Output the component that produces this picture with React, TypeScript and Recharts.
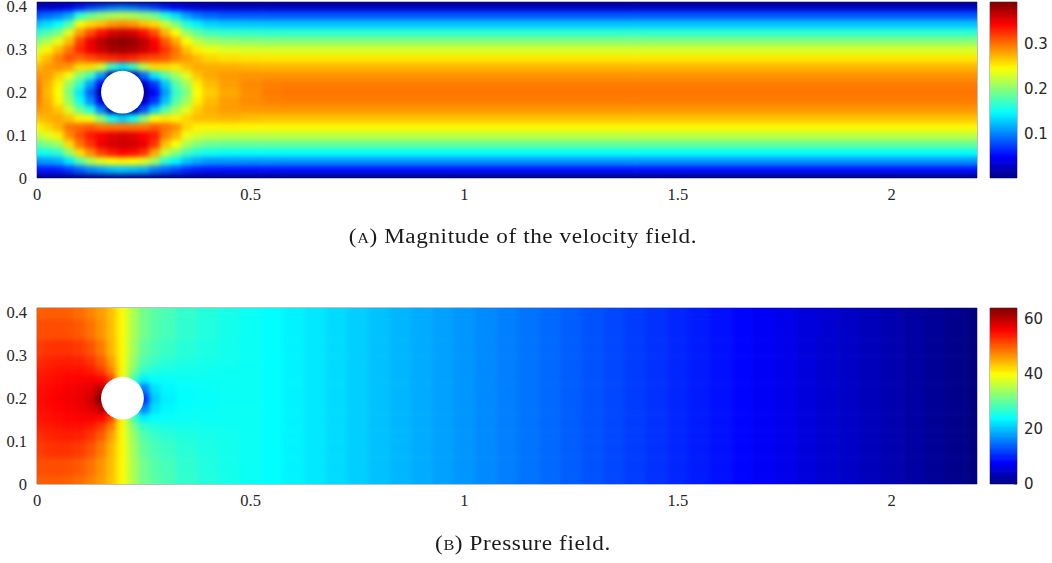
import { ReferenceArea, ReferenceDot, Scatter, ScatterChart, XAxis, YAxis } from 'recharts'

const xTicks = [0, 0.5, 1, 1.5, 2]
const yTicks = [0, 0.1, 0.2, 0.3, 0.4]
const speedTicks = [0.1, 0.2, 0.3]
const pressureTicks = [0, 20, 40, 60]
const speedMax = 0.394
const pressureMax = 63.7

// velocity magnitude, one row per x, one value per y
const speedXs = [0, 0.025, 0.05, 0.075, 0.1, 0.125, 0.15, 0.175, 0.2, 0.225, 0.25, 0.275, 0.3, 0.325, 0.35, 0.375, 0.4, 0.45, 0.5, 0.55, 0.6, 2.2]
const speedYs = [0, 0.02, 0.04, 0.06, 0.08, 0.1, 0.12, 0.14, 0.16, 0.18, 0.2, 0.22, 0.24, 0.26, 0.28, 0.3, 0.32, 0.34, 0.36, 0.38, 0.4, 0.41]
const speed = [
  [0, 0.056, 0.106, 0.149, 0.188, 0.221, 0.249, 0.27, 0.286, 0.296, 0.3, 0.297, 0.288, 0.274, 0.255, 0.231, 0.2, 0.165, 0.125, 0.082, 0.028, 0],
  [0, 0.058, 0.11, 0.156, 0.198, 0.235, 0.262, 0.276, 0.28, 0.277, 0.272, 0.276, 0.283, 0.284, 0.273, 0.25, 0.216, 0.177, 0.135, 0.09, 0.03, 0],
  [0, 0.06, 0.115, 0.165, 0.21, 0.252, 0.275, 0.28, 0.268, 0.25, 0.245, 0.25, 0.265, 0.29, 0.295, 0.272, 0.238, 0.195, 0.148, 0.098, 0.034, 0],
  [0, 0.07, 0.14, 0.205, 0.26, 0.29, 0.3, 0.27, 0.23, 0.205, 0.195, 0.205, 0.24, 0.285, 0.315, 0.3, 0.272, 0.235, 0.18, 0.115, 0.042, 0],
  [0, 0.085, 0.18, 0.26, 0.3, 0.315, 0.305, 0.25, 0.19, 0.155, 0.14, 0.165, 0.2, 0.26, 0.305, 0.33, 0.32, 0.285, 0.24, 0.165, 0.06, 0],
  [0, 0.1, 0.215, 0.29, 0.325, 0.335, 0.31, 0.24, 0.16, 0.105, 0.085, 0.11, 0.17, 0.26, 0.315, 0.35, 0.35, 0.315, 0.26, 0.185, 0.075, 0],
  [0, 0.11, 0.235, 0.32, 0.35, 0.345, 0.3, 0.2, 0.1, 0.04, 0.01, 0.05, 0.11, 0.23, 0.325, 0.365, 0.372, 0.34, 0.27, 0.2, 0.085, 0],
  [0, 0.12, 0.245, 0.335, 0.36, 0.355, 0.3, 0.15, 0.02, 0, 0, 0, 0.02, 0.17, 0.33, 0.378, 0.385, 0.36, 0.285, 0.21, 0.095, 0],
  [0, 0.125, 0.25, 0.345, 0.365, 0.36, 0.3, 0.13, 0, 0, 0, 0, 0, 0.14, 0.335, 0.38, 0.39, 0.365, 0.29, 0.215, 0.1, 0],
  [0, 0.12, 0.245, 0.34, 0.362, 0.355, 0.3, 0.15, 0.02, 0, 0, 0, 0.02, 0.17, 0.33, 0.375, 0.385, 0.36, 0.285, 0.21, 0.095, 0],
  [0, 0.115, 0.235, 0.325, 0.352, 0.345, 0.3, 0.2, 0.08, 0.03, 0.01, 0.03, 0.09, 0.22, 0.32, 0.365, 0.37, 0.34, 0.27, 0.2, 0.085, 0],
  [0, 0.095, 0.21, 0.28, 0.325, 0.335, 0.31, 0.245, 0.13, 0.07, 0.05, 0.07, 0.14, 0.26, 0.315, 0.35, 0.345, 0.315, 0.26, 0.19, 0.075, 0],
  [0, 0.085, 0.165, 0.225, 0.27, 0.295, 0.3, 0.255, 0.18, 0.125, 0.11, 0.125, 0.18, 0.26, 0.31, 0.325, 0.31, 0.275, 0.225, 0.16, 0.06, 0],
  [0, 0.075, 0.145, 0.2, 0.245, 0.275, 0.29, 0.25, 0.21, 0.18, 0.168, 0.18, 0.21, 0.255, 0.295, 0.3, 0.28, 0.245, 0.195, 0.135, 0.05, 0],
  [0, 0.065, 0.125, 0.175, 0.215, 0.24, 0.262, 0.262, 0.235, 0.21, 0.197, 0.21, 0.235, 0.27, 0.285, 0.27, 0.245, 0.205, 0.16, 0.11, 0.04, 0],
  [0, 0.06, 0.115, 0.16, 0.198, 0.23, 0.25, 0.272, 0.265, 0.252, 0.246, 0.252, 0.268, 0.28, 0.272, 0.252, 0.222, 0.185, 0.143, 0.095, 0.033, 0],
  [0, 0.057, 0.108, 0.153, 0.19, 0.224, 0.25, 0.272, 0.277, 0.272, 0.265, 0.272, 0.28, 0.278, 0.262, 0.24, 0.208, 0.172, 0.131, 0.087, 0.03, 0],
  [0, 0.056, 0.107, 0.15, 0.188, 0.221, 0.25, 0.274, 0.284, 0.284, 0.28, 0.284, 0.286, 0.277, 0.258, 0.234, 0.203, 0.167, 0.127, 0.083, 0.029, 0],
  [0, 0.056, 0.106, 0.149, 0.188, 0.221, 0.249, 0.271, 0.285, 0.291, 0.29, 0.292, 0.288, 0.275, 0.256, 0.232, 0.201, 0.166, 0.126, 0.082, 0.028, 0],
  [0, 0.056, 0.106, 0.149, 0.188, 0.221, 0.249, 0.27, 0.286, 0.295, 0.297, 0.296, 0.288, 0.274, 0.255, 0.231, 0.2, 0.165, 0.125, 0.082, 0.028, 0],
  [0, 0.056, 0.106, 0.149, 0.188, 0.221, 0.249, 0.27, 0.286, 0.296, 0.3, 0.297, 0.288, 0.274, 0.255, 0.231, 0.2, 0.165, 0.125, 0.082, 0.028, 0],
  [0, 0.056, 0.106, 0.149, 0.188, 0.221, 0.249, 0.27, 0.286, 0.296, 0.3, 0.297, 0.288, 0.274, 0.255, 0.231, 0.2, 0.165, 0.125, 0.082, 0.028, 0],
]

// pressure around the cylinder, one row per x
const pressureNearXs = [0, 0.025, 0.05, 0.075, 0.1, 0.125, 0.15, 0.175, 0.19, 0.2, 0.21, 0.225, 0.25, 0.275, 0.3, 0.35, 0.4, 0.45]
const pressureYs = [0, 0.04, 0.085, 0.115, 0.135, 0.155, 0.175, 0.2, 0.225, 0.245, 0.265, 0.285, 0.315, 0.36, 0.41]
const pressureNear = [
  [50, 51, 52, 53, 53.8, 54.4, 54.8, 55, 54.8, 54.4, 53.8, 53, 52, 51, 50],
  [50, 51, 52.5, 53.5, 54.2, 54.8, 55.2, 55.5, 55.2, 54.8, 54.2, 53.5, 52.5, 51, 50],
  [50, 51, 52.7, 53.8, 54.6, 55.2, 55.7, 56, 55.7, 55.2, 54.6, 53.8, 52.7, 51, 50],
  [49.7, 50.8, 52.7, 54, 54.9, 55.6, 56.2, 56.4, 56.2, 55.6, 54.9, 54, 52.7, 50.8, 49.7],
  [49, 50.2, 52.2, 53.8, 54.9, 55.8, 56.6, 57, 56.6, 55.8, 54.9, 53.8, 52.2, 50.2, 49],
  [47.5, 48.7, 50.6, 52.5, 54.3, 56, 57.5, 58.5, 57.5, 56, 54.3, 52.5, 50.6, 48.7, 47.5],
  [46, 46.5, 48, 50, 52, 55.5, 60, 63.7, 60, 55.5, 52, 50, 48, 46.5, 46],
  [43.7, 44, 44.5, 46, 48, 52, 58, 63.7, 58, 52, 48, 46, 44.5, 44, 43.7],
  [41.3, 41.3, 41.5, 42, 42.5, 43, 43, 43, 43, 43, 42.5, 42, 41.5, 41.3, 41.3],
  [39.8, 39.8, 39.8, 39.8, 39.8, 39.8, 39.8, 39.8, 39.8, 39.8, 39.8, 39.8, 39.8, 39.8, 39.8],
  [37.5, 37.5, 37.3, 37, 36.5, 36, 36, 36, 36, 36, 36.5, 37, 37.3, 37.5, 37.5],
  [34.5, 34.3, 33.8, 33, 31.5, 28, 26, 25, 26, 28, 31.5, 33, 33.8, 34.3, 34.5],
  [31, 31, 30, 29, 27, 23, 16, 11, 16, 23, 27, 29, 30, 31, 31],
  [29.5, 29.2, 28.5, 27.5, 25.8, 24, 22, 20.5, 22, 24, 25.8, 27.5, 28.5, 29.2, 29.5],
  [28.5, 28.2, 27.5, 26.5, 25.3, 24.3, 23.5, 23, 23.5, 24.3, 25.3, 26.5, 27.5, 28.2, 28.5],
  [27, 26.8, 26.3, 25.7, 25, 24.5, 24.2, 24, 24.2, 24.5, 25, 25.7, 26.3, 26.8, 27],
  [26, 25.9, 25.6, 25.2, 24.8, 24.5, 24.3, 24.2, 24.3, 24.5, 24.8, 25.2, 25.6, 25.9, 26],
  [25.2, 25.1, 25, 24.9, 24.7, 24.6, 24.5, 24.5, 24.5, 24.6, 24.7, 24.9, 25, 25.1, 25.2],
]

// downstream the pressure only changes along x
const pressureFarXs = [0.5, 0.55, 0.6, 0.65, 0.7, 0.75, 0.8, 0.85, 0.9, 0.95, 1, 1.05, 1.1, 1.15, 1.2, 1.25, 1.3, 1.35, 1.4, 1.45, 1.5, 1.55, 1.6, 1.65, 1.7, 1.75, 1.8, 1.85, 1.9, 1.95, 2, 2.05, 2.1, 2.15, 2.2]
const pressureFar = [24.5, 23.9, 23.2, 22.5, 21.7, 20.9, 20.1, 19.4, 18.7, 18, 17.3, 16.6, 15.9, 15.2, 14.5, 13.8, 13.1, 12.4, 11.7, 11, 10.3, 9.6, 8.9, 8.2, 7.4, 6.7, 5.9, 5.1, 4.4, 3.7, 3, 2.2, 1.5, 0.75, 0]

const speedLevels = [0, 0.01, 0.02, 0.03, 0.04, 0.05, 0.06, 0.07, 0.08, 0.09, 0.1, 0.11, 0.12, 0.13, 0.14, 0.15, 0.16, 0.17, 0.18, 0.19, 0.2, 0.21, 0.22, 0.23, 0.24, 0.25, 0.26, 0.27, 0.28, 0.29, 0.3, 0.31, 0.32, 0.33, 0.34, 0.35, 0.36, 0.37, 0.38, 0.39, 0.394]
const pressureLevels = [0, 2, 4, 6, 8, 10, 12, 14, 16, 18, 20, 22, 24, 26, 28, 30, 32, 34, 36, 38, 40, 42, 44, 46, 48, 50, 52, 54, 56, 58, 60, 62, 63.7]

const xMax = 2.2
const yMax = 0.41
const plotW = 940
const plotH = 176
const serif = '"Liberation Serif", serif'
const sans = '"DejaVu Sans", sans-serif'
const textColor = '#262626'
const frameColor = '#7f7f7f'

const clamp = (v: number) => Math.max(0, Math.min(1, v))

// matlab jet colormap
function jet(t: number) {
  const r = clamp(1.5 - Math.abs(4 * t - 3))
  const g = clamp(1.5 - Math.abs(4 * t - 2))
  const b = clamp(1.5 - Math.abs(4 * t - 1))
  return `rgb(${Math.round(r * 255)},${Math.round(g * 255)},${Math.round(b * 255)})`
}

function edges(list: number[], i: number) {
  const low = i === 0 ? list[0] : (list[i - 1] + list[i]) / 2
  const high = i === list.length - 1 ? list[i] : (list[i] + list[i + 1]) / 2
  return [low, high]
}

function toCells(xs: number[], ys: number[], columns: number[][]) {
  return xs.flatMap((x, i) =>
    ys.map((y, j) => {
      const [x0, x1] = edges(xs, i)
      const [y0, y1] = edges(ys, j)
      return { x, y, x0, x1, y0, y1, value: columns[i][j] }
    })
  )
}

const speedCells = toCells(speedXs, speedYs, speed)
const pressureCells = toCells(
  [...pressureNearXs, ...pressureFarXs],
  pressureYs,
  [...pressureNear, ...pressureFar.map(v => pressureYs.map(() => v))]
)

// cells on the outer edge go past the plot so the blur does not fade there
function heatCell(maxValue: number) {
  const pxX = plotW / xMax
  const pxY = plotH / yMax
  return (props: any) => {
    const { cx, cy, payload: c } = props
    const left = cx - (c.x - c.x0) * pxX - (c.x0 <= 0 ? 14 : 0)
    const right = cx + (c.x1 - c.x) * pxX + (c.x1 >= xMax ? 14 : 0)
    const top = cy - (c.y1 - c.y) * pxY - (c.y1 >= yMax ? 14 : 0)
    const bottom = cy + (c.y - c.y0) * pxY + (c.y0 <= 0 ? 14 : 0)
    return <rect x={left} y={top} width={right - left + 0.5} height={bottom - top + 0.5} fill={jet(c.value / maxValue)} />
  }
}

function HeatPanel({ id, top, cells, maxValue }: any) {
  return (
    <div id={id} style={{ position: 'absolute', left: 0, top }}>
      <ScatterChart width={985} height={210} margin={{ top: 2, right: 8, bottom: 0, left: 0 }}>
        <defs>
          <clipPath id={`${id}-clip`}>
            <rect x={37} y={2} width={plotW} height={plotH} />
          </clipPath>
        </defs>
        <XAxis
          type="number"
          dataKey="x"
          domain={[0, xMax]}
          ticks={xTicks}
          height={32}
          axisLine={false}
          tickLine={false}
          tickMargin={4}
          interval={0}
          allowDataOverflow
          tick={{ fontFamily: serif, fontSize: 16.5, fill: textColor }}
        />
        <YAxis
          type="number"
          dataKey="y"
          domain={[0, yMax]}
          ticks={yTicks}
          width={37}
          axisLine={false}
          tickLine={false}
          tickMargin={4}
          interval={0}
          allowDataOverflow
          tick={{ fontFamily: serif, fontSize: 16.5, fill: textColor }}
        />
        <Scatter data={cells} shape={heatCell(maxValue)} isAnimationActive={false} />
        <ReferenceDot x={0.2} y={0.2} r={21.4} fill="#ffffff" stroke="none" />
        <ReferenceArea x1={0} x2={xMax} y1={0} y2={yMax} fill="none" stroke={frameColor} strokeWidth={1} />
      </ScatterChart>
    </div>
  )
}

function barCell(maxValue: number) {
  const pxY = plotH / maxValue
  return (props: any) => {
    const { cy, payload: c } = props
    const top = cy - (c.y1 - c.y) * pxY - (c.y1 >= maxValue ? 8 : 0)
    const bottom = cy + (c.y - c.y0) * pxY + (c.y0 <= 0 ? 8 : 0)
    return <rect x={-5} y={top} width={47} height={bottom - top + 0.5} fill={jet(c.value / maxValue)} />
  }
}

function ColorBar({ id, top, levels, maxValue, ticks }: any) {
  const cells = toCells([0.5], levels, [levels])
  return (
    <div id={id} style={{ position: 'absolute', left: 985, top }}>
      <ScatterChart width={67} height={180} margin={{ top: 2, right: 0, bottom: 2, left: 5 }}>
        <defs>
          <clipPath id={`${id}-clip`}>
            <rect x={5} y={2} width={27} height={plotH} />
          </clipPath>
        </defs>
        <XAxis type="number" dataKey="x" domain={[0, 1]} hide />
        <YAxis
          type="number"
          dataKey="y"
          orientation="right"
          domain={[0, maxValue]}
          ticks={ticks}
          width={35}
          axisLine={false}
          tickSize={-3}
          tickMargin={10}
          interval={0}
          allowDataOverflow
          tickLine={{ stroke: '#404040' }}
          tick={{ fontFamily: sans, fontSize: 15, fill: textColor }}
        />
        <Scatter data={cells} shape={barCell(maxValue)} isAnimationActive={false} />
        <ReferenceArea x1={0} x2={1} y1={0} y2={maxValue} fill="none" stroke={frameColor} strokeWidth={1} />
      </ScatterChart>
    </div>
  )
}

function Caption({ top, letter, text }: any) {
  return (
    <div
      style={{
        position: 'absolute',
        left: -3,
        top,
        width: 1052,
        textAlign: 'center',
        fontFamily: serif,
        fontSize: 20,
        letterSpacing: 0.5,
        transform: 'scaleX(1.16)',
        color: '#1a1a1a',
        whiteSpace: 'pre',
      }}
    >
      <span style={{ fontVariant: 'small-caps' }}>({letter})</span> {text}
    </div>
  )
}

const panelCss = `
  .recharts-surface { overflow: visible; }
  #speed-panel .recharts-scatter { filter: blur(2.6px); clip-path: url(#speed-panel-clip); }
  #pressure-panel .recharts-scatter { filter: blur(2.5px); clip-path: url(#pressure-panel-clip); }
  #speed-bar .recharts-scatter { filter: blur(1.5px); clip-path: url(#speed-bar-clip); }
  #pressure-bar .recharts-scatter { filter: blur(1.5px); clip-path: url(#pressure-bar-clip); }
`

export default function App() {
  return (
    <div style={{ position: 'absolute', left: 0, top: 0, width: 1052, height: 563, background: '#ffffff', overflow: 'hidden' }}>
      <style>{panelCss}</style>
      <HeatPanel id="speed-panel" top={0} cells={speedCells} maxValue={speedMax} />
      <ColorBar id="speed-bar" top={0} levels={speedLevels} maxValue={speedMax} ticks={speedTicks} />
      <Caption top={225} letter="a" text="Magnitude of the velocity field." />
      <HeatPanel id="pressure-panel" top={306} cells={pressureCells} maxValue={pressureMax} />
      <ColorBar id="pressure-bar" top={306} levels={pressureLevels} maxValue={pressureMax} ticks={pressureTicks} />
      <Caption top={532} letter="b" text="Pressure field." />
    </div>
  )
}
